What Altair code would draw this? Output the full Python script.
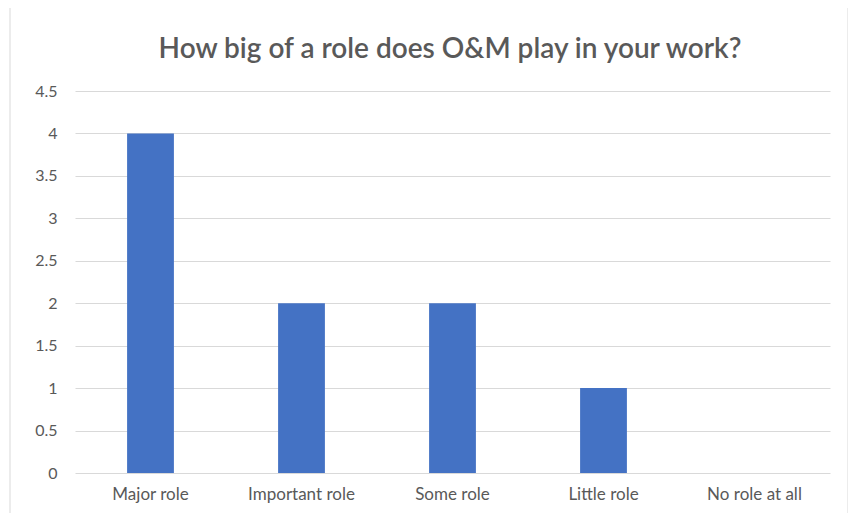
import altair as alt
import pandas as pd

categories = ["Major role", "Important role", "Some role", "Little role", "No role at all"]
values = [4, 2, 2, 1, 0]
title_text = "How big of a role does O&M play in your work?"
y_ticks = [0, 0.5, 1, 1.5, 2, 2.5, 3, 3.5, 4, 4.5]

df = pd.DataFrame({"category": categories, "value": values})

FONT = "Lato"
GRAY = "#595959"

border = alt.Chart(pd.DataFrame({"a": [0]})).mark_rect(
    fill=None, stroke="#d9d9d9", strokeWidth=1, clip=False
).encode(
    x=alt.value(-65), x2=alt.value(773), y=alt.value(-84), y2=alt.value(450)
)

title = alt.Chart(pd.DataFrame({"t": [title_text]})).mark_text(
    font=FONT, fontSize=28, fontWeight=600, color=GRAY,
    align="center", baseline="middle", clip=False
).encode(
    text="t:N", x=alt.value(375), y=alt.value(-41)
)

bars = alt.Chart(df).mark_bar(color="#4472C4").encode(
    x=alt.X("category:N", sort=categories, title=None,
            scale=alt.Scale(paddingInner=0.69, paddingOuter=0.345),
            axis=alt.Axis(labelAngle=0, ticks=False, domain=False, labelPadding=13,
                          labelFont=FONT, labelFontSize=17, labelColor=GRAY)),
    y=alt.Y("value:Q", title=None,
            scale=alt.Scale(domain=[0, 4.5], nice=False),
            axis=alt.Axis(values=y_ticks, ticks=False, domain=False, labelPadding=18,
                          labelFont=FONT, labelFontSize=16, labelColor=GRAY,
                          gridColor="#d9d9d9", gridWidth=1, format="~g")),
)

chart = alt.layer(bars, border, title).properties(
    width=755, height=382,
    autosize=alt.AutoSizeParams(type="none"),
    padding={"left": 67, "top": 83, "right": 18, "bottom": 40},
).configure_view(stroke=None)

chart.save("out.html", embed_options={"renderer": "svg", "actions": False})
